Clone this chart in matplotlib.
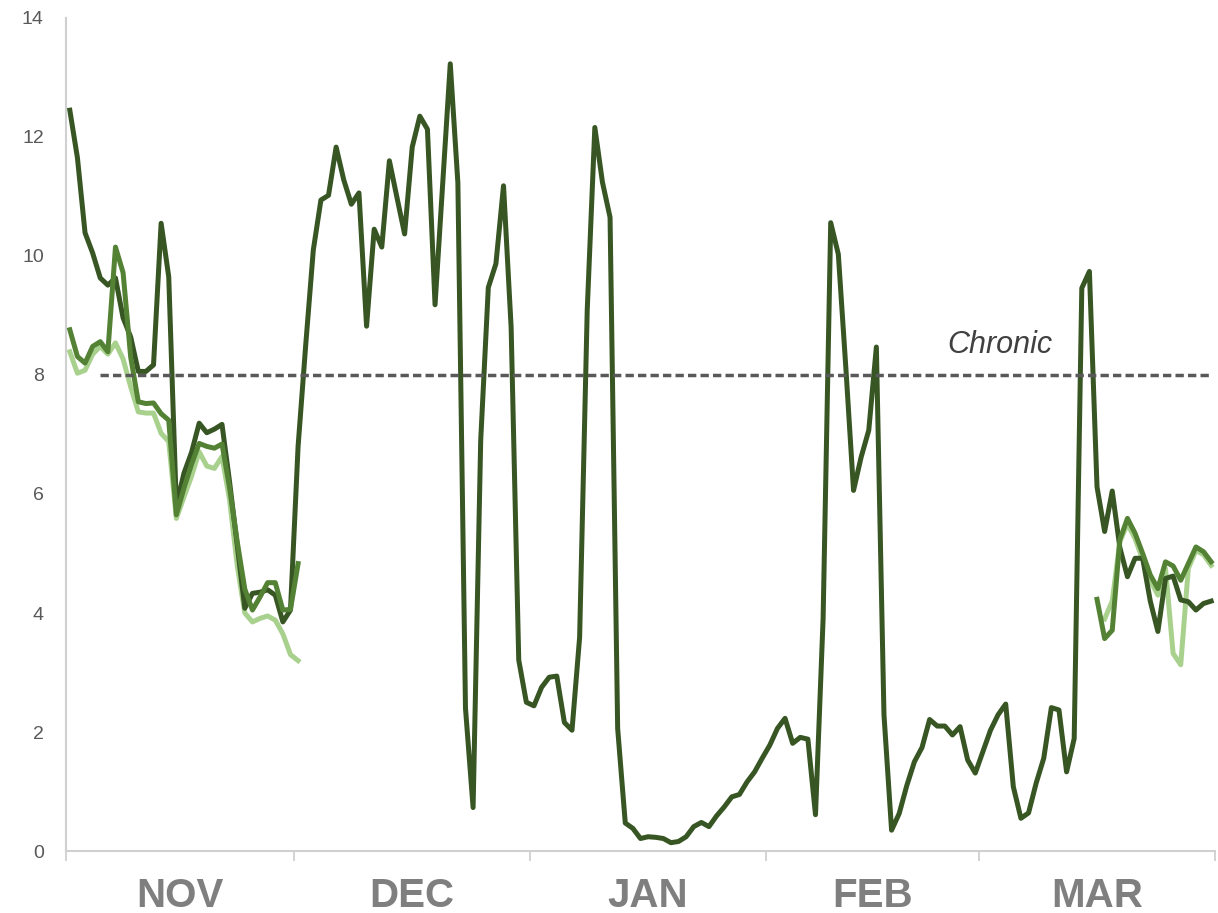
import numpy as np
import matplotlib.pyplot as plt
from matplotlib.ticker import FixedLocator, NullFormatter

plt.rcParams['font.family'] = ['Liberation Sans', 'DejaVu Sans']

# daily values, day 0 = Nov 1, day 150 = Mar 31
dark = [
    12.45, 11.65, 10.39, 10.05, 9.63, 9.51, 9.63, 8.96, 8.64, 8.06,
    8.06, 8.17, 10.55, 9.65, 5.8, 6.35, 6.7, 7.19, 7.03, 7.09,
    7.17, 6.2, 5.14, 4.08, 4.33, 4.35, 4.39, 4.3, 3.85, 4.05,
    6.8, 8.5, 10.1, 10.94, 11.02, 11.83, 11.28, 10.87, 11.06, 8.82,
    10.45, 10.15, 11.6, 10.98, 10.37, 11.83, 12.35, 12.13, 9.18, 11.2,
    13.23, 11.23, 2.4, 0.73, 6.9, 9.47, 9.87, 11.18, 8.8, 3.21,
    2.5, 2.44, 2.75, 2.92, 2.94, 2.16, 2.03, 3.59, 9.09, 12.16,
    11.24, 10.65, 2.06, 0.47, 0.38, 0.21, 0.24, 0.23, 0.21, 0.14,
    0.16, 0.24, 0.41, 0.48, 0.41, 0.59, 0.74, 0.91, 0.95, 1.16,
    1.33, 1.56, 1.78, 2.06, 2.23, 1.81, 1.91, 1.88, 0.61, 3.9,
    10.56, 10.03, 8.1, 6.06, 6.62, 7.07, 8.47, 2.29, 0.35, 0.63,
    1.1, 1.5, 1.74, 2.21, 2.1, 2.1, 1.95, 2.09, 1.53, 1.31,
    1.67, 2.03, 2.29, 2.47, 1.08, 0.55, 0.64, 1.14, 1.56, 2.41,
    2.37, 1.33, 1.89, 9.46, 9.74, 6.12, 5.37, 6.05, 5.1, 4.61,
    4.92, 4.92, 4.2, 3.69, 4.58, 4.62, 4.22, 4.19, 4.05, 4.16,
    4.2,
]

mid_nov = [8.76, 8.31, 8.2, 8.48, 8.56, 8.39, 10.15, 9.72, 8.3, 7.55,
           7.52, 7.53, 7.35, 7.24, 5.65, 6.1, 6.5, 6.85, 6.8, 6.77,
           6.84, 6.1, 5.2, 4.4, 4.05, 4.27, 4.51, 4.51, 4.05, 4.06,
           4.83]
light_nov = [8.39, 8.03, 8.08, 8.35, 8.48, 8.35, 8.54, 8.27, 7.8, 7.38,
             7.36, 7.36, 7.02, 6.88, 5.59, 5.95, 6.3, 6.71, 6.47, 6.43,
             6.63, 5.9, 4.8, 4.0, 3.85, 3.91, 3.95, 3.88, 3.65, 3.3,
             3.2]
mid_mar = [4.23, 3.57, 3.71, 5.23, 5.59, 5.34, 5.0, 4.64, 4.41, 4.86,
           4.79, 4.55, 4.83, 5.11, 5.03, 4.86]
light_mar = [3.9, 4.2, 5.2, 5.5, 5.25, 4.9, 4.55, 4.3, 4.75, 3.32,
             3.13, 4.75, 5.05, 4.98, 4.8]

chronic = 8
months = ['NOV', 'DEC', 'JAN', 'FEB', 'MAR']
month_days = [30, 31, 31, 28, 31]

days = np.arange(len(dark))
bounds = np.concatenate([[0], np.cumsum(month_days)]) - 0.5
centers = (bounds[:-1] + bounds[1:]) / 2

fig = plt.figure(figsize=(12.18, 9.13), dpi=100)
ax = fig.add_axes([0.0542, 0.0679, 0.9433, 0.9124])

lw = 3.6
ax.plot(np.arange(0, 31), light_nov, color='#a9d18e', lw=lw, zorder=2)
ax.plot(np.arange(136, 151), light_mar, color='#a9d18e', lw=lw, zorder=2)
ax.plot(days, dark, color='#375623', lw=lw, zorder=3)
ax.plot(np.arange(0, 31), mid_nov, color='#548235', lw=lw, zorder=4)
ax.plot(np.arange(135, 151), mid_mar, color='#548235', lw=lw, zorder=4)

cd = np.arange(4, 151)
ax.plot(cd, np.full(len(cd), chronic), color='#595959', lw=2.5,
        dashes=(2.4, 1.2), zorder=5)
ax.text(122.2, 8.5, 'Chronic', fontsize=22, style='italic',
        color='#404040', ha='center', va='center', zorder=6)

ax.set_xlim(bounds[0], bounds[-1])
ax.set_ylim(0, 14)
ax.set_yticks(np.arange(0, 15, 2))
ax.tick_params(axis='y', length=0, pad=16, labelsize=14, labelcolor='#595959')

ax.xaxis.set_major_locator(FixedLocator(centers))
ax.set_xticklabels(months)
ax.xaxis.set_minor_locator(FixedLocator(bounds))
ax.xaxis.set_minor_formatter(NullFormatter())
ax.tick_params(axis='x', which='major', length=0, pad=19, labelsize=29,
               labelcolor='#7f7f7f')
for lab in ax.get_xticklabels():
    lab.set_fontweight('bold')
ax.tick_params(axis='x', which='minor', length=7, width=1.3, color='#d0d0d0')

for side in ['top', 'right']:
    ax.spines[side].set_visible(False)
for side in ['left', 'bottom']:
    ax.spines[side].set_color('#d0d0d0')
    ax.spines[side].set_linewidth(1.5)

fig.savefig('out.png', dpi=100)
